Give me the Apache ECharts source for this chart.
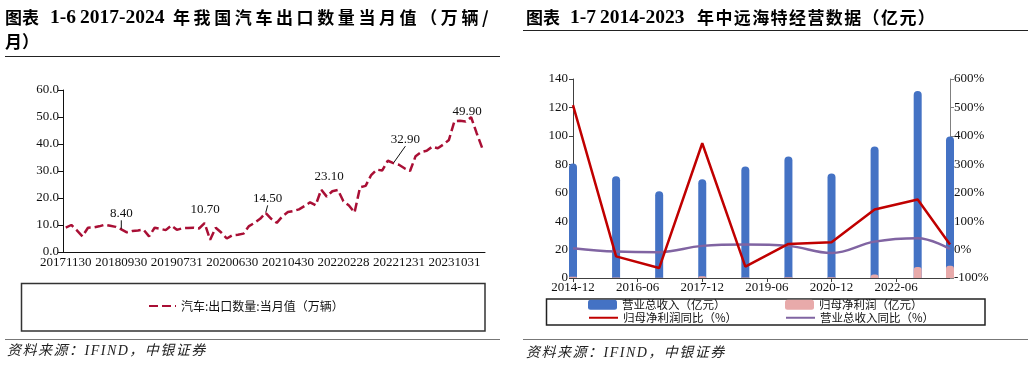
<!DOCTYPE html>
<html>
<head>
<meta charset="utf-8">
<script src="https://cdn.jsdelivr.net/npm/echarts@6/dist/echarts.min.js"></script>
<style>
  html, body { margin:0; padding:0; background:#fff; }
  #wrap { position:relative; width:1033px; height:366px; overflow:hidden; }
  #chart { position:absolute; left:0; top:0; width:1033px; height:366px; }
  .t { position:absolute; white-space:nowrap; color:#000; font-weight:bold; line-height:20px; z-index:2; }
  .cjk { font-family:"Noto Sans CJK SC", sans-serif; font-size:17px; }
  .lat { font-family:"Liberation Serif", serif; font-size:19.5px; }
  .hr { position:absolute; height:0; z-index:2; }
  .foot { position:absolute; white-space:nowrap; font-style:italic; color:#222; z-index:2;
          font-family:"Liberation Serif","Noto Sans CJK SC",serif; font-size:14px; letter-spacing:1.5px; line-height:16px; }
</style>
</head>
<body>
<div id="wrap">
  <div id="chart"></div>
  <!-- left title -->
  <div class="t cjk" style="left:5px;top:7px;">图表</div>
  <div class="t lat" style="left:50px;top:7px;">1-6</div>
  <div class="t lat" style="left:80px;top:7px;">2017-2024</div>
  <div class="t cjk" style="left:173px;top:7px;letter-spacing:3.6px;">年我国汽车出口数量当月值（万辆/</div>
  <div class="t cjk" style="left:5px;top:31px;">月）</div>
  <div class="hr" style="left:5px;top:56px;width:495px;border-top:1.5px solid #222;"></div>
  <!-- right title -->
  <div class="t cjk" style="left:526px;top:7px;">图表</div>
  <div class="t lat" style="left:570px;top:7px;">1-7</div>
  <div class="t lat" style="left:600px;top:7px;">2014-2023</div>
  <div class="t cjk" style="left:697px;top:7px;letter-spacing:1.4px;">年中远海特经营数据（亿元）</div>
  <div class="hr" style="left:523px;top:29.5px;width:505px;border-top:1.5px solid #222;"></div>
  <!-- footers -->
  <div class="hr" style="left:5px;top:338.5px;width:495px;border-top:1.5px solid #777;"></div>
  <div class="hr" style="left:523px;top:338.5px;width:505px;border-top:1.5px solid #777;"></div>
  <div class="foot" style="left:7px;top:343px;">资料来源：IFIND，中银证券</div>
  <div class="foot" style="left:526px;top:345px;">资料来源：IFIND，中银证券</div>
</div>
<script>
// ---------- Left chart data: China auto exports, monthly (万辆) ----------
const exportCategories = [
  '20171130','20171231',
  '20180131','20180228','20180331','20180430','20180531','20180630','20180731','20180831','20180930','20181031','20181130','20181231',
  '20190131','20190228','20190331','20190430','20190531','20190630','20190731','20190831','20190930','20191031','20191130','20191231',
  '20200229','20200331','20200430','20200531','20200630','20200731','20200831','20200930','20201031','20201130','20201231',
  '20210131','20210228','20210331','20210430','20210531','20210630','20210731','20210831','20210930','20211031','20211130','20211231',
  '20220131','20220228','20220331','20220430','20220531','20220630','20220731','20220831','20220930','20221031','20221130','20221231',
  '20230131','20230228','20230331','20230430','20230531','20230630','20230731','20230831','20230930','20231031','20231130','20231231',
  '20240131','20240229','20240331'
];
const exportValues = [
  9.0, 10.0, 8.0, 5.8, 9.0, 9.1, 9.5, 10.1, 9.7, 9.3,
  8.4, 7.3, 7.8, 8.0, 8.3, 5.8, 9.0, 8.6, 8.1, 9.8,
  8.2, 8.8, 8.9, 9.0, 8.7, 10.7, 4.5, 9.0, 7.2, 5.0,
  6.2, 6.4, 6.8, 9.6, 10.8, 12.3, 14.5, 12.3, 10.8, 13.2,
  14.8, 15.2, 15.8, 17.0, 18.4, 17.3, 23.1, 20.5, 22.5, 23.0,
  18.8, 17.2, 14.6, 24.0, 24.5, 28.5, 30.5, 30.2, 33.8, 32.9,
  32.3, 31.0, 30.0, 35.5, 37.0, 37.5, 39.0, 38.4, 39.8, 41.5,
  48.5, 48.6, 48.3, 49.9, 44.0, 38.5
];
const annotatedPoints = [10, 25, 36, 46, 59, 73];
const exportSeriesName = '汽车:出口数量:当月值（万辆）';
const exportYTicks = [0, 10, 20, 30, 40, 50, 60];

// ---------- Right chart data: COSCO Shipping Specialized (亿元 / %) ----------
const opPeriods = ['2014-12','2015-12','2016-12','2017-12','2018-12','2019-12','2020-12','2021-12','2022-12','2023-09'];
const revenue = [80.5, 71.5, 61.0, 69.5, 78.5, 85.5, 73.5, 92.5, 131.5, 99.5];
const netProfit = [0.8, 0.3, 0.2, 1.2, 0.4, 0.5, 0.6, 2.5, 7.8, 8.6];
const netProfitYoY = [508, -24, -65, 374, -60, 20, 26, 141, 176, 18];
const revenueYoY = [5, -7, -9, 13, 18, 13, -12, 28, 40, 2];
const opNames = ['营业总收入（亿元）', '归母净利润（亿元）', '归母净利润同比（%）', '营业总收入同比（%）'];

// ---------- build ----------
const baseYM = 2014 * 12 + 11; // 2014-12 as month index
const toMonths = s => { const [y, m] = s.split('-').map(Number); return y * 12 + (m - 1) - baseYM; };
const fromMonths = v => { const t = baseYM + v; const y = Math.floor(t / 12); const m = t - y * 12 + 1; return y + '-' + (m < 10 ? '0' + m : m); };
const opX = opPeriods.map(toMonths);
const pairs = arr => arr.map((v, i) => [opX[i], v]);

const labelOffsets = { 10: [0, -8.5, true], 25: [0.5, -6.5, false], 36: [2, -7, true], 46: [8, -6, false], 59: [12, -16.5, true], 73: [-4, 1.5, false] };
const lineColor = '#A90F35';
const exportData = exportValues.map((v, i) => {
  if (annotatedPoints.indexOf(i) < 0) return v;
  const o = labelOffsets[i];
  return {
    value: v, symbol: 'circle', symbolSize: 1,
    label: { show: true, position: 'top', distance: 0, formatter: v.toFixed(2), fontSize: 13, color: '#111', fontFamily: 'Liberation Serif' },
    labelLine: { show: o[2], lineStyle: { color: '#111', width: 1 } }
  };
});

const serif = 'Liberation Serif';
const cjk = 'Noto Sans CJK SC';
const legendText = { fontSize: 11.5, fontFamily: cjk, color: '#111' };
const chart = echarts.init(document.getElementById('chart'), null, { renderer: 'canvas' });
chart.setOption({
  animation: false,
  backgroundColor: '#fff',
  textStyle: { fontFamily: serif },
  grid: [
    { left: 63, top: 90, width: 422, height: 162 },
    { left: 573, top: 79, width: 377, height: 199 }
  ],
  xAxis: [
    {
      type: 'category', gridIndex: 0, data: exportCategories, boundaryGap: true,
      axisLine: { lineStyle: { color: '#111', width: 1 } },
      axisTick: { interval: 0, length: 5, lineStyle: { color: '#111' } },
      axisLabel: { interval: 9, color: '#111', fontSize: 13, margin: 4, fontFamily: serif }
    },
    {
      type: 'value', gridIndex: 1, min: 0, max: opX[opX.length - 1], interval: 18,
      splitLine: { show: false },
      axisLine: { onZero: false, lineStyle: { color: '#404040', width: 1 } },
      axisTick: { length: 4, lineStyle: { color: '#404040' } },
      axisLabel: { color: '#111', fontSize: 13, margin: 3, fontFamily: serif, showMaxLabel: false,
        formatter: v => (v % 18 === 0 ? fromMonths(v) : '') }
    }
  ],
  yAxis: [
    {
      type: 'value', gridIndex: 0, min: exportYTicks[0], max: exportYTicks[exportYTicks.length - 1], interval: 10,
      splitLine: { show: false },
      axisLine: { show: true, lineStyle: { color: '#111', width: 1 } },
      axisTick: { show: true, length: 5, lineStyle: { color: '#111' } },
      axisLabel: { color: '#111', fontSize: 13, margin: 4, fontFamily: serif, formatter: v => v.toFixed(1) }
    },
    {
      type: 'value', gridIndex: 1, position: 'left', min: 0, max: 140, interval: 20,
      splitLine: { show: false },
      axisLine: { show: true, lineStyle: { color: '#404040', width: 1 } },
      axisTick: { show: true, length: 4, lineStyle: { color: '#404040' } },
      axisLabel: { color: '#111', fontSize: 13, margin: 5, fontFamily: serif }
    },
    {
      type: 'value', gridIndex: 1, position: 'right', min: -100, max: 600, interval: 100,
      splitLine: { show: false },
      axisLine: { show: true, lineStyle: { color: '#808080', width: 1 } },
      axisTick: { show: true, length: 4, lineStyle: { color: '#808080' } },
      axisLabel: { color: '#111', fontSize: 13, margin: 4, fontFamily: serif, formatter: v => v + '%' }
    }
  ],
  legend: [
    { data: [exportSeriesName], left: 148, top: 300, padding: 0, itemWidth: 27, itemHeight: 10,
      itemStyle: { opacity: 0 },
      textStyle: { fontSize: 12, fontFamily: cjk, color: '#111' } },
    { data: [opNames[0]], left: 588, top: 299, padding: 0, itemWidth: 29, itemHeight: 10, textStyle: legendText },
    { data: [opNames[1]], left: 785, top: 299, padding: 0, itemWidth: 29, itemHeight: 10, textStyle: legendText },
    { data: [opNames[2]], left: 588, top: 312, padding: 0, itemWidth: 29, itemHeight: 10,
      itemStyle: { opacity: 0 }, textStyle: legendText },
    { data: [opNames[3]], left: 785, top: 312, padding: 0, itemWidth: 29, itemHeight: 10,
      itemStyle: { opacity: 0 }, textStyle: legendText }
  ],
  graphic: [
    { type: 'rect', silent: true, shape: { x: 21.5, y: 283.5, width: 463.5, height: 47.5 },
      style: { fill: 'none', stroke: '#333', lineWidth: 1.5 } },
    { type: 'rect', silent: true, shape: { x: 546.5, y: 299, width: 438.5, height: 26 },
      style: { fill: 'none', stroke: '#222', lineWidth: 1.5 } }
  ],
  series: [
    {
      name: exportSeriesName, type: 'line', xAxisIndex: 0, yAxisIndex: 0,
      data: exportData, symbol: 'none', showSymbol: true, showAllSymbol: true,
      lineStyle: { color: lineColor, width: 2.5, type: [9, 4] },
      itemStyle: { color: lineColor },
      labelLayout: p => { const o = labelOffsets[p.dataIndex]; return o ? { dx: o[0], dy: o[1] } : {}; },
      z: 3
    },
    {
      name: opNames[0], type: 'bar', xAxisIndex: 1, yAxisIndex: 1, data: pairs(revenue),
      barWidth: 8, barGap: '-100%', clip: true,
      itemStyle: { color: '#4472C4', borderRadius: [4, 4, 0, 0] }, z: 2
    },
    {
      name: opNames[1], type: 'bar', xAxisIndex: 1, yAxisIndex: 1, data: pairs(netProfit),
      barWidth: 8, barGap: '-100%', clip: true,
      itemStyle: { color: '#E8AAAA', borderRadius: [3, 3, 0, 0] }, z: 2
    },
    {
      name: opNames[2], type: 'line', xAxisIndex: 1, yAxisIndex: 2, data: pairs(netProfitYoY),
      symbol: 'none', lineStyle: { color: '#C00000', width: 2.5 }, itemStyle: { color: '#C00000' }, z: 4
    },
    {
      name: opNames[3], type: 'line', xAxisIndex: 1, yAxisIndex: 2, data: pairs(revenueYoY),
      symbol: 'none', smooth: 0.4, lineStyle: { color: '#8064A2', width: 2.5 }, itemStyle: { color: '#8064A2' }, z: 3
    }
  ]
});
</script>
</body>
</html>
